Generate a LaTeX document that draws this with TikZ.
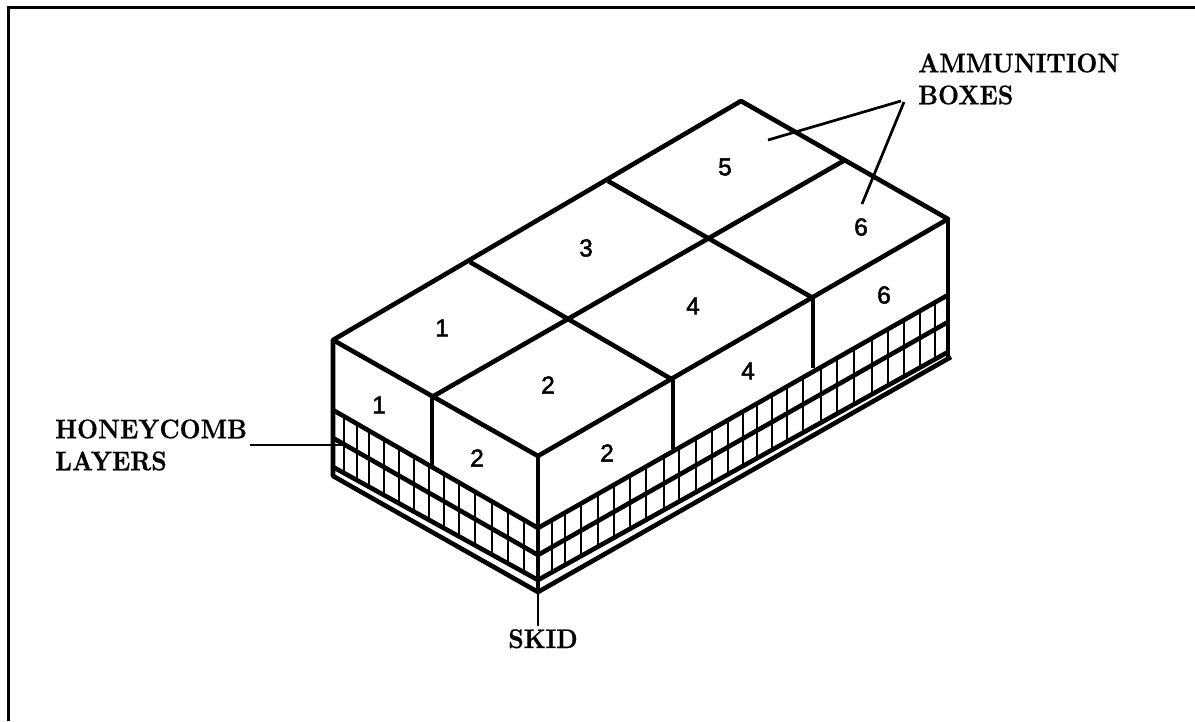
\documentclass[tikz,border=0pt]{standalone}
\usepackage{fontspec}
\newfontfamily\digitfont[FakeBold=2]{Liberation Sans}
\newfontfamily\calloutfont[Extension=.otf,FakeStretch=0.9,FakeBold=0.5]{lmroman10-bold}

\tikzset{
    edge/.style={line width=4.6pt, line join=round},
    cell/.style={line width=2.6pt},
    leader/.style={line width=2.7pt},
    callout/.style={font=\fontsize{27}{32}\selectfont\calloutfont, align=left, inner sep=3pt},
    boxnum/.style={font=\fontsize{24.5}{24.5}\selectfont\digitfont, inner sep=0pt}
}

\begin{document}
\begin{tikzpicture}[x=1pt, y=-1pt]
    \useasboundingbox (0,0) rectangle (1195,721);

    % Frame (left and top only)
    \draw[line width=3pt] (8.5,721) -- (8.5,7.5) -- (1195,7.5);

    % Corners of the stack
    \coordinate (back) at (741,101);
    \coordinate (left) at (333,340);
    \coordinate (right) at (948,219);
    \coordinate (front) at (538,456);
    \coordinate (leftbox) at (333,410);
    \coordinate (frontbox) at (538,528);
    \coordinate (rightbox) at (948,295);
    \coordinate (leftmid) at (333,438);
    \coordinate (frontmid) at (538,555);
    \coordinate (rightmid) at (948,322);
    \coordinate (leftply) at (333,467);
    \coordinate (frontply) at (538,580);
    \coordinate (rightply) at (948,352);
    \coordinate (leftskid) at (333,476);
    \coordinate (frontskid) at (538,592);
    \coordinate (rightskid) at (951,357);
    \coordinate (rightbase) at (948,357);

    % Honeycomb cells, left face
    \foreach \x in {344,357,369,384,399,414,429,444,459,475,492,508,524}
        \draw[cell] (\x,{410+(\x-333)*(118/205)}) -- (\x,{467+(\x-333)*(113/205)});

    % Honeycomb cells, right face
    \foreach \x in {552,565,581,598,614,630,646,664,679,696,712,728,743,757,772,787,803,821,837,854,872,888,904,920,935}
        \draw[cell] (\x,{528-(\x-538)*(233/410)}) -- (\x,{580-(\x-538)*(228/410)});

    % Layer lines
    \draw[edge] (leftbox) -- (frontbox) -- (rightbox);
    \draw[edge] (leftmid) -- (frontmid) -- (rightmid);
    \draw[edge] (leftply) -- (frontply) -- (rightply);
    \draw[edge] (left) -- (leftskid) -- (frontskid) -- (rightskid);
    \draw[edge] (right) -- (rightbase);
    \draw[edge] (front) -- (frontskid);

    % Top outline
    \draw[edge] (left) -- (back) -- (right) -- (front) -- cycle;

    % Box divisions
    \draw[edge] (432,397) -- (845,160);
    \draw[edge] (470,262) -- (673,380);
    \draw[edge] (608,181) -- (813,298);
    \draw[edge] (432,397) -- (432,467);
    \draw[edge] (673,380) -- (673,449);
    \draw[edge] (813,298) -- (813,368);

    % Box numbers
    \node[boxnum] (top1) at (442,328) {1};
    \node[boxnum] (top3) at (586,248) {3};
    \node[boxnum] (top5) at (725,167) {5};
    \node[boxnum] (side1) at (379,405) {1};
    \node[boxnum] (top2) at (548,385) {2};
    \node[boxnum] (sideA2) at (477,458) {2};
    \node[boxnum] (sideB2) at (607,453) {2};
    \node[boxnum] (top4) at (693,306) {4};
    \node[boxnum] (side4) at (748,371) {4};
    \node[boxnum] (top6) at (861,227) {6};
    \node[boxnum] (side6) at (884,295) {6};

    % Callouts
    \node[callout, anchor=west] (ammolabel) at (915,79) {AMMUNITION\\BOXES};
    \node[callout, anchor=west] (honeylabel) at (52,445) {HONEYCOMB\\LAYERS};
    \node[callout, anchor=north] (skidlabel) at (543,626) {SKID};

    \coordinate (ammotail5) at (901,101);
    \coordinate (ammotip5) at (768,140);
    \coordinate (ammotail6) at (904,102);
    \coordinate (ammotip6) at (862,204);
    \coordinate (honeytip) at (344,445);

    \draw[leader] (ammotail5) -- (ammotip5);
    \draw[leader] (ammotail6) -- (ammotip6);
    \draw[leader] (honeylabel.east) -- (honeytip);
    \draw[leader] (frontskid) -- (frontskid |- skidlabel.north);
\end{tikzpicture}
\end{document}
